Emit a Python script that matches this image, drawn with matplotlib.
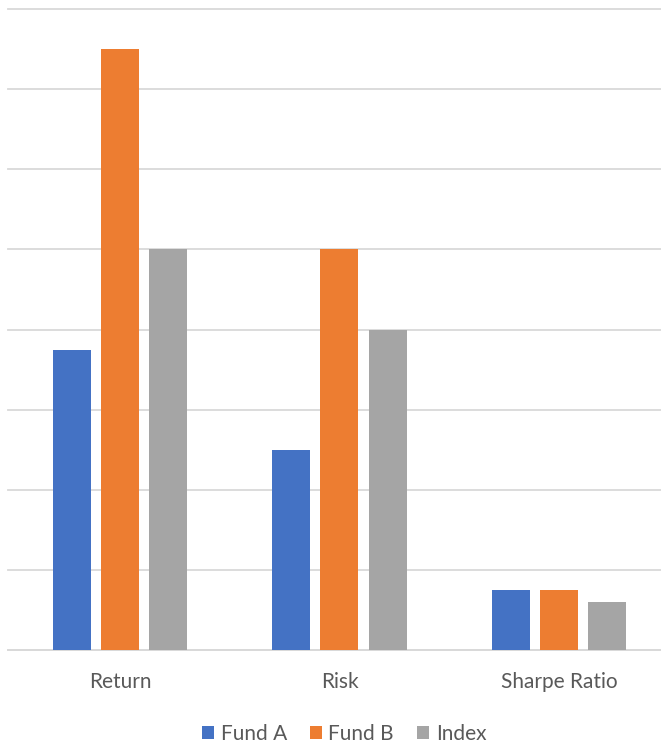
import matplotlib.pyplot as plt
import numpy as np

categories = ["Return", "Risk", "Sharpe Ratio"]
fund_a = [7.5, 5.0, 1.5]
fund_b = [15.0, 10.0, 1.5]
index = [10.0, 8.0, 1.2]
series_names = ["Fund A", "Fund B", "Index"]
colors = ["#4472c4", "#ed7d31", "#a5a5a5"]

plt.rcParams['font.family'] = ['Lato', 'DejaVu Sans']

fig = plt.figure(figsize=(6.61, 7.45), dpi=100)
ax = fig.add_axes([8 / 661, 1 - 650 / 745, 653 / 661, 641 / 745])

x = np.arange(len(categories))
w = 0.173
step = 0.22
handles = []
for i, vals in enumerate([fund_a, fund_b, index]):
    b = ax.bar(x + (i - 1) * step, vals, w, color=colors[i], zorder=3,
               label=series_names[i])
    handles.append(b)

ax.set_xlim(-0.51, 2.465)
ax.set_ylim(0, 16)
ax.set_yticks(np.arange(0, 17, 2))
ax.yaxis.grid(True, color="#d9d9d9", linewidth=1.3, zorder=0)
ax.tick_params(axis="y", left=False, labelleft=False)
ax.tick_params(axis="x", length=0, pad=16, labelsize=15, labelcolor="#595959")
ax.set_xticks(x)
ax.set_xticklabels(categories)
for s in ["top", "right", "left"]:
    ax.spines[s].set_visible(False)
ax.spines["bottom"].set_color("#d9d9d9")
ax.spines["bottom"].set_linewidth(1.3)
for line in ax.get_ygridlines():
    line.set_clip_on(False)

fig.legend(handles=handles, loc="center", bbox_to_anchor=(344 / 661, 1 - 734 / 745),
           ncol=3, frameon=False, fontsize=15, labelcolor="#595959",
           handlelength=0.6, handleheight=0.6, handletextpad=0.3, columnspacing=1.1)

fig.savefig("out.png", dpi=100)
